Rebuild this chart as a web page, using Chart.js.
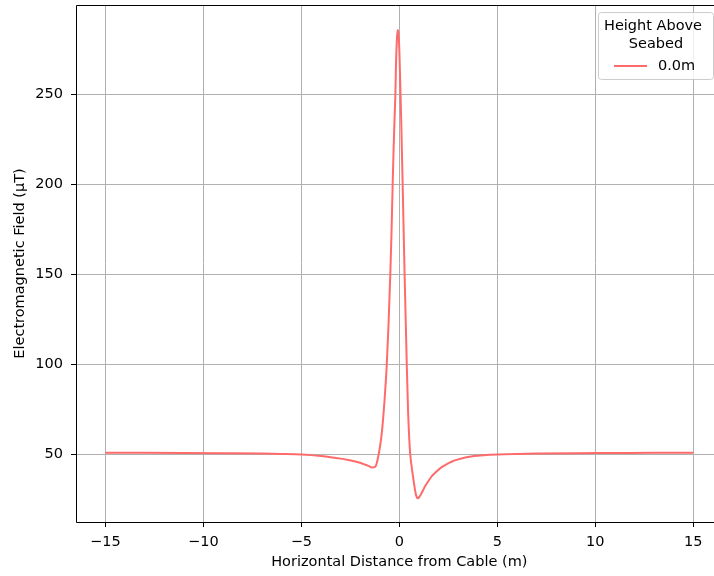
<!DOCTYPE html>
<html>
<head>
<meta charset="utf-8">
<script src="https://cdn.jsdelivr.net/npm/chart.js@4.4.1/dist/chart.umd.min.js"></script>
<style>
html,body{margin:0;padding:0;background:#fff;}
#wrap{width:714px;height:576px;position:relative;}
</style>
</head>
<body>
<div id="wrap"><canvas id="c" width="714" height="576"></canvas></div>
<script>
// Data
const distances = [-15, -13, -11, -9, -7, -6, -5, -4.5, -4, -3.5, -3, -2.6, -2.24, -2.0, -1.73, -1.55,
  -1.39, -1.28, -1.19, -1.14, -1.09, -1.02, -0.92, -0.85, -0.75, -0.64, -0.55, -0.46, -0.4, -0.34,
  -0.3, -0.255, -0.2, -0.17, -0.13, -0.09, -0.05, 0.0, 0.05, 0.1, 0.17, 0.27, 0.38, 0.45, 0.51, 0.55,
  0.6, 0.65, 0.7, 0.75, 0.8, 0.85, 0.9, 0.94, 0.98, 1.03, 1.1, 1.2, 1.33, 1.5, 1.67, 1.9, 2.18, 2.4,
  2.69, 3.0, 3.37, 3.8, 4.3, 5, 6, 7, 9, 11, 13, 15];
const field0m = [50.8, 50.75, 50.65, 50.5, 50.3, 50.1, 49.8, 49.45, 48.95, 48.3, 47.5, 46.7, 45.9, 45.2, 44.1, 43.3,
  42.6, 42.8, 43.6, 45.5, 48.0, 51.8, 59.3, 66.7, 80.5, 99.7, 122, 149.7, 172, 199.7,
  216, 232.5, 250.3, 266, 279, 285.6, 284, 275, 255, 234, 200, 150, 100, 73, 58, 51,
  45.5, 41.3, 37.6, 33.8, 30.2, 27.5, 25.9, 25.5, 25.7, 26.4, 27.6, 29.7, 32.4, 35.3, 37.9, 40.4, 42.9, 44.3,
  45.9, 47.1, 48.1, 48.9, 49.4, 49.8, 50.1, 50.3, 50.5, 50.6, 50.7, 50.75];
const xTicks = [-15, -10, -5, 0, 5, 10, 15];
const yTicks = [50, 100, 150, 200, 250];
const seriesLabel = '0.0m';
const legendTitle = ['Height Above', 'Seabed'];
const xTitle = 'Horizontal Distance from Cable (m)';
const yTitle = 'Electromagnetic Field (\u00b5T)';

const FONT = '"DejaVu Sans", sans-serif';
const FS = 14.5;
const LINE_COLOR = '#ff6b6b';
const fmt = v => v < 0 ? '\u2212' + Math.abs(v) : String(v);

const decor = {
  id: 'decor',
  afterDraw(chart) {
    const ctx = chart.ctx, a = chart.chartArea;
    const xs = chart.scales.x;
    ctx.save();
    // spines: left, bottom, top (right spine lies outside the canvas)
    ctx.strokeStyle = '#000';
    ctx.lineWidth = 1;
    ctx.beginPath();
    ctx.moveTo(a.left + 0.5, a.top + 0.5);
    ctx.lineTo(a.left + 0.5, a.bottom + 0.5);
    ctx.lineTo(a.right + 2, a.bottom + 0.5);
    ctx.moveTo(a.left + 0.5, a.top + 0.5);
    ctx.lineTo(a.right + 2, a.top + 0.5);
    ctx.stroke();
    // axis titles
    ctx.fillStyle = '#000';
    ctx.font = FS + 'px ' + FONT;
    ctx.textAlign = 'center';
    ctx.textBaseline = 'middle';
    const fullRight = xs.getPixelForValue(16.5);
    ctx.fillText(xTitle, (a.left + fullRight) / 2, 562);
    ctx.save();
    ctx.translate(20.5, (a.top + a.bottom) / 2);
    ctx.rotate(-Math.PI / 2);
    ctx.fillText(yTitle, 0, 0);
    ctx.restore();
    // legend
    const bx = 598.5, by = 12.5, bw = 115, bh = 67, r = 3;
    ctx.beginPath();
    ctx.moveTo(bx + r, by);
    ctx.lineTo(bx + bw - r, by);
    ctx.arcTo(bx + bw, by, bx + bw, by + r, r);
    ctx.lineTo(bx + bw, by + bh - r);
    ctx.arcTo(bx + bw, by + bh, bx + bw - r, by + bh, r);
    ctx.lineTo(bx + r, by + bh);
    ctx.arcTo(bx, by + bh, bx, by + bh - r, r);
    ctx.lineTo(bx, by + r);
    ctx.arcTo(bx, by, bx + r, by, r);
    ctx.closePath();
    ctx.fillStyle = 'rgba(255,255,255,0.8)';
    ctx.fill();
    ctx.strokeStyle = '#cccccc';
    ctx.lineWidth = 1;
    ctx.stroke();
    ctx.fillStyle = '#000';
    ctx.textAlign = 'center';
    ctx.fillText(legendTitle[0], 653, 26);
    ctx.fillText(legendTitle[1], 656, 44.5);
    ctx.strokeStyle = LINE_COLOR;
    ctx.lineWidth = 2;
    ctx.beginPath();
    ctx.moveTo(614, 66);
    ctx.lineTo(647, 66);
    ctx.stroke();
    ctx.textAlign = 'left';
    ctx.fillText(seriesLabel, 658, 66.5);
    ctx.restore();
  }
};

new Chart(document.getElementById('c'), {
  type: 'line',
  data: {
    datasets: [{
      label: seriesLabel,
      data: distances.map((d, i) => ({ x: d, y: field0m[i] })),
      borderColor: LINE_COLOR,
      borderWidth: 2,
      pointRadius: 0,
      fill: false,
      cubicInterpolationMode: 'monotone'
    }]
  },
  options: {
    responsive: false,
    animation: false,
    layout: { padding: { top: 5, right: 0, left: 0, bottom: 0 } },
    plugins: { legend: { display: false }, tooltip: { enabled: false } },
    scales: {
      x: {
        type: 'linear',
        min: -16.5,
        max: 16.06,
        afterBuildTicks: s => { s.ticks = xTicks.map(v => ({ value: v })); },
        afterFit: s => { s.height = 54; s.paddingLeft = 0; s.paddingRight = 0; },
        grid: { color: '#b0b0b0', lineWidth: 1, tickColor: '#000', tickLength: 5 },
        border: { display: false },
        ticks: { color: '#000', padding: 7, font: { family: FONT, size: FS }, callback: v => fmt(v), maxRotation: 0 }
      },
      y: {
        type: 'linear',
        min: 12.3,
        max: 299.5,
        afterBuildTicks: s => { s.ticks = yTicks.map(v => ({ value: v })); },
        afterFit: s => { s.width = 76; s.paddingTop = 0; s.paddingBottom = 0; },
        grid: { color: '#b0b0b0', lineWidth: 1, tickColor: '#000', tickLength: 5 },
        border: { display: false },
        ticks: { color: '#000', padding: 8, font: { family: FONT, size: FS }, callback: v => fmt(v) }
      }
    }
  },
  plugins: [decor]
});
</script>
</body>
</html>
